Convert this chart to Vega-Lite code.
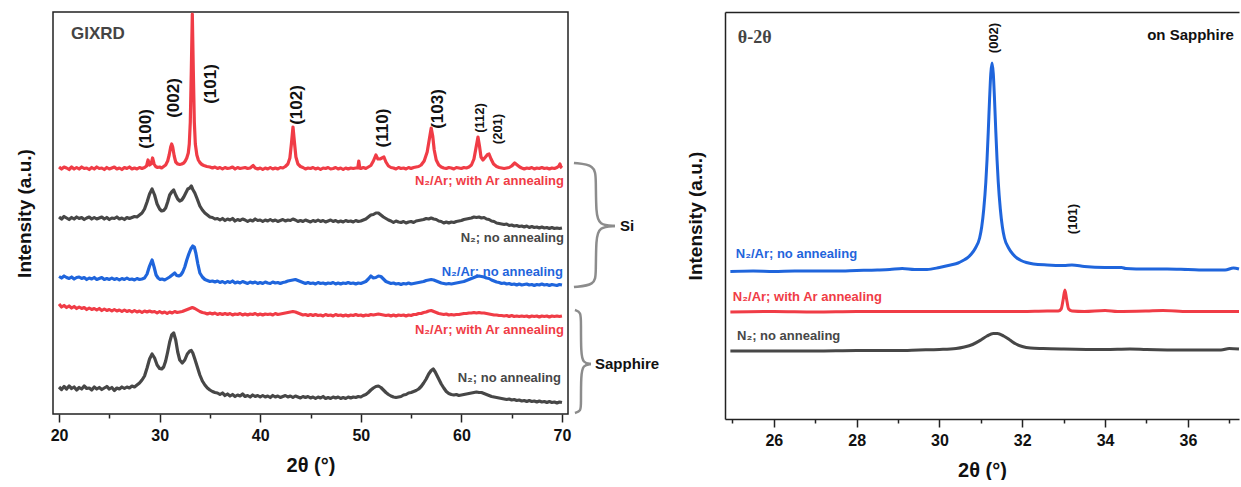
{
"$schema":"https://vega.github.io/schema/vega-lite/v6.json",
"padding":{"left":14,"top":11,"right":0,"bottom":0},
"background":"white",
"bounds":"flush",
"spacing":157,
"config":{"view":{"stroke":null},"font":"Liberation Sans","axis":{"grid":false}},
"datasets":{
"gi":[
{"s":"A","x":20,"y":247},{"s":"A","x":20.25,"y":245},{"s":"A","x":20.5,"y":247},{"s":"A","x":20.75,"y":246},{"s":"A","x":21,"y":244.5},{"s":"A","x":21.25,"y":247},{"s":"A","x":21.5,"y":245},{"s":"A","x":21.75,"y":246.5},{"s":"A","x":22,"y":245},{"s":"A","x":22.25,"y":247},{"s":"A","x":22.5,"y":245.5},{"s":"A","x":22.75,"y":246},{"s":"A","x":23,"y":244.5},{"s":"A","x":23.25,"y":246.5},{"s":"A","x":23.5,"y":245},{"s":"A","x":23.75,"y":247},{"s":"A","x":24,"y":245.5},{"s":"A","x":24.25,"y":246},{"s":"A","x":24.5,"y":244.5},{"s":"A","x":24.75,"y":246.5},{"s":"A","x":25,"y":245},{"s":"A","x":25.25,"y":246},{"s":"A","x":25.5,"y":247},{"s":"A","x":25.75,"y":245},{"s":"A","x":26,"y":246},{"s":"A","x":26.25,"y":244.5},{"s":"A","x":26.5,"y":246.5},{"s":"A","x":26.75,"y":245.5},{"s":"A","x":27,"y":247},{"s":"A","x":27.25,"y":245},{"s":"A","x":27.5,"y":246},{"s":"A","x":27.75,"y":245},{"s":"A","x":28,"y":246.5},{"s":"A","x":28.25,"y":245.5},{"s":"A","x":28.5,"y":246.5},{"s":"A","x":28.7,"y":248},{"s":"A","x":28.85,"y":254},{"s":"A","x":29,"y":249},{"s":"A","x":29.15,"y":250},{"s":"A","x":29.3,"y":256},{"s":"A","x":29.45,"y":250},{"s":"A","x":29.6,"y":247.5},{"s":"A","x":29.8,"y":246.5},{"s":"A","x":30,"y":247},{"s":"A","x":30.2,"y":246},{"s":"A","x":30.4,"y":247.5},{"s":"A","x":30.6,"y":249},{"s":"A","x":30.8,"y":253},{"s":"A","x":30.95,"y":259},{"s":"A","x":31.1,"y":267},{"s":"A","x":31.2,"y":270},{"s":"A","x":31.3,"y":267},{"s":"A","x":31.45,"y":258},{"s":"A","x":31.6,"y":252},{"s":"A","x":31.8,"y":250},{"s":"A","x":32,"y":249.5},{"s":"A","x":32.2,"y":250},{"s":"A","x":32.4,"y":251},{"s":"A","x":32.55,"y":253},{"s":"A","x":32.7,"y":256},{"s":"A","x":32.85,"y":261},{"s":"A","x":32.95,"y":270},{"s":"A","x":33.05,"y":292},{"s":"A","x":33.15,"y":343},{"s":"A","x":33.25,"y":400},{"s":"A","x":33.35,"y":343},{"s":"A","x":33.45,"y":292},{"s":"A","x":33.55,"y":270},{"s":"A","x":33.7,"y":259},{"s":"A","x":33.85,"y":254},{"s":"A","x":34,"y":251.5},{"s":"A","x":34.2,"y":249.5},{"s":"A","x":34.4,"y":248.5},{"s":"A","x":34.7,"y":247.5},{"s":"A","x":35,"y":247},{"s":"A","x":35.25,"y":246},{"s":"A","x":35.5,"y":247},{"s":"A","x":35.75,"y":245.5},{"s":"A","x":36,"y":246.5},{"s":"A","x":36.25,"y":245},{"s":"A","x":36.5,"y":246.5},{"s":"A","x":36.75,"y":245.5},{"s":"A","x":37,"y":246},{"s":"A","x":37.25,"y":247},{"s":"A","x":37.5,"y":245},{"s":"A","x":37.75,"y":246.5},{"s":"A","x":38,"y":245.5},{"s":"A","x":38.25,"y":246},{"s":"A","x":38.5,"y":246.5},{"s":"A","x":38.75,"y":245.5},{"s":"A","x":39,"y":246},{"s":"A","x":39.3,"y":248.5},{"s":"A","x":39.5,"y":246},{"s":"A","x":39.75,"y":245},{"s":"A","x":40,"y":246},{"s":"A","x":40.25,"y":244.5},{"s":"A","x":40.5,"y":246},{"s":"A","x":40.75,"y":245},{"s":"A","x":41,"y":246.5},{"s":"A","x":41.25,"y":245},{"s":"A","x":41.5,"y":246},{"s":"A","x":41.75,"y":245},{"s":"A","x":42,"y":246.5},{"s":"A","x":42.25,"y":246},{"s":"A","x":42.5,"y":247.5},{"s":"A","x":42.75,"y":250},{"s":"A","x":42.95,"y":256},{"s":"A","x":43.1,"y":270},{"s":"A","x":43.26,"y":287},{"s":"A","x":43.4,"y":272},{"s":"A","x":43.55,"y":257},{"s":"A","x":43.75,"y":250},{"s":"A","x":44,"y":247.5},{"s":"A","x":44.25,"y":246.5},{"s":"A","x":44.5,"y":245},{"s":"A","x":44.75,"y":246},{"s":"A","x":45,"y":245.5},{"s":"A","x":45.25,"y":246.5},{"s":"A","x":45.5,"y":245},{"s":"A","x":45.75,"y":246},{"s":"A","x":46,"y":244.5},{"s":"A","x":46.25,"y":246},{"s":"A","x":46.5,"y":245.5},{"s":"A","x":46.75,"y":246.5},{"s":"A","x":47,"y":245},{"s":"A","x":47.25,"y":245.5},{"s":"A","x":47.5,"y":246.5},{"s":"A","x":47.75,"y":245},{"s":"A","x":48,"y":246},{"s":"A","x":48.25,"y":244.5},{"s":"A","x":48.5,"y":246},{"s":"A","x":48.75,"y":245},{"s":"A","x":49,"y":246},{"s":"A","x":49.25,"y":245.5},{"s":"A","x":49.5,"y":246},{"s":"A","x":49.7,"y":246},{"s":"A","x":49.8,"y":253},{"s":"A","x":49.9,"y":246},{"s":"A","x":50,"y":245.5},{"s":"A","x":50.25,"y":246.5},{"s":"A","x":50.5,"y":245.5},{"s":"A","x":50.75,"y":247},{"s":"A","x":51,"y":248.5},{"s":"A","x":51.25,"y":253},{"s":"A","x":51.5,"y":259},{"s":"A","x":51.7,"y":255},{"s":"A","x":51.9,"y":255},{"s":"A","x":52.1,"y":256},{"s":"A","x":52.3,"y":257},{"s":"A","x":52.5,"y":252},{"s":"A","x":52.75,"y":248},{"s":"A","x":53,"y":246.5},{"s":"A","x":53.25,"y":246},{"s":"A","x":53.5,"y":245},{"s":"A","x":53.75,"y":246.5},{"s":"A","x":54,"y":245.5},{"s":"A","x":54.25,"y":246},{"s":"A","x":54.5,"y":245},{"s":"A","x":54.75,"y":246.5},{"s":"A","x":55,"y":245.5},{"s":"A","x":55.25,"y":246.5},{"s":"A","x":55.5,"y":247},{"s":"A","x":55.75,"y":247.5},{"s":"A","x":56,"y":249},{"s":"A","x":56.3,"y":253},{"s":"A","x":56.6,"y":262},{"s":"A","x":56.8,"y":274},{"s":"A","x":57,"y":286},{"s":"A","x":57.15,"y":278},{"s":"A","x":57.3,"y":264},{"s":"A","x":57.5,"y":254},{"s":"A","x":57.75,"y":249},{"s":"A","x":58,"y":247},{"s":"A","x":58.25,"y":246},{"s":"A","x":58.5,"y":245.5},{"s":"A","x":58.75,"y":246.5},{"s":"A","x":59,"y":246},{"s":"A","x":59.25,"y":245},{"s":"A","x":59.5,"y":246.5},{"s":"A","x":59.75,"y":246},{"s":"A","x":60,"y":245.5},{"s":"A","x":60.25,"y":246.5},{"s":"A","x":60.5,"y":246},{"s":"A","x":60.75,"y":247},{"s":"A","x":61,"y":249},{"s":"A","x":61.25,"y":255},{"s":"A","x":61.45,"y":266},{"s":"A","x":61.65,"y":277},{"s":"A","x":61.8,"y":268},{"s":"A","x":61.95,"y":257},{"s":"A","x":62.15,"y":254},{"s":"A","x":62.4,"y":257},{"s":"A","x":62.6,"y":259.5},{"s":"A","x":62.75,"y":260},{"s":"A","x":62.95,"y":255},{"s":"A","x":63.2,"y":250},{"s":"A","x":63.5,"y":247.5},{"s":"A","x":63.75,"y":246.5},{"s":"A","x":64,"y":246},{"s":"A","x":64.25,"y":245.5},{"s":"A","x":64.5,"y":246},{"s":"A","x":64.75,"y":246.5},{"s":"A","x":65,"y":248},{"s":"A","x":65.3,"y":251},{"s":"A","x":65.55,"y":249},{"s":"A","x":65.8,"y":247},{"s":"A","x":66,"y":246},{"s":"A","x":66.25,"y":245},{"s":"A","x":66.5,"y":246},{"s":"A","x":66.75,"y":245.5},{"s":"A","x":67,"y":246.5},{"s":"A","x":67.25,"y":245},{"s":"A","x":67.5,"y":246},{"s":"A","x":67.75,"y":245.5},{"s":"A","x":68,"y":246.5},{"s":"A","x":68.25,"y":245.5},{"s":"A","x":68.5,"y":246},{"s":"A","x":68.75,"y":245},{"s":"A","x":69,"y":246},{"s":"A","x":69.25,"y":245.5},{"s":"A","x":69.5,"y":246.5},{"s":"A","x":69.7,"y":248},{"s":"A","x":69.8,"y":250},{"s":"A","x":69.9,"y":247},{"s":"A","x":70,"y":246},
{"s":"B","x":20,"y":197},{"s":"B","x":20.25,"y":195},{"s":"B","x":20.5,"y":197.5},{"s":"B","x":20.75,"y":196},{"s":"B","x":21,"y":194.5},{"s":"B","x":21.25,"y":196.5},{"s":"B","x":21.5,"y":195},{"s":"B","x":21.75,"y":197},{"s":"B","x":22,"y":195.5},{"s":"B","x":22.25,"y":196.5},{"s":"B","x":22.5,"y":194.5},{"s":"B","x":22.75,"y":196},{"s":"B","x":23,"y":197},{"s":"B","x":23.25,"y":195},{"s":"B","x":23.5,"y":196.5},{"s":"B","x":23.75,"y":195},{"s":"B","x":24,"y":196},{"s":"B","x":24.25,"y":197},{"s":"B","x":24.5,"y":195},{"s":"B","x":24.75,"y":196.5},{"s":"B","x":25,"y":194.5},{"s":"B","x":25.25,"y":196},{"s":"B","x":25.5,"y":195.5},{"s":"B","x":25.75,"y":197},{"s":"B","x":26,"y":195},{"s":"B","x":26.25,"y":196},{"s":"B","x":26.5,"y":194.5},{"s":"B","x":26.75,"y":196.5},{"s":"B","x":27,"y":195.5},{"s":"B","x":27.25,"y":196.5},{"s":"B","x":27.5,"y":197.5},{"s":"B","x":27.75,"y":197},{"s":"B","x":28,"y":199},{"s":"B","x":28.25,"y":201},{"s":"B","x":28.5,"y":205},{"s":"B","x":28.75,"y":212},{"s":"B","x":29,"y":220},{"s":"B","x":29.25,"y":225},{"s":"B","x":29.5,"y":219},{"s":"B","x":29.75,"y":210},{"s":"B","x":30,"y":205},{"s":"B","x":30.2,"y":203},{"s":"B","x":30.4,"y":203.5},{"s":"B","x":30.6,"y":206},{"s":"B","x":30.8,"y":212},{"s":"B","x":31,"y":219},{"s":"B","x":31.2,"y":222},{"s":"B","x":31.4,"y":224},{"s":"B","x":31.6,"y":219},{"s":"B","x":31.8,"y":215},{"s":"B","x":32,"y":213},{"s":"B","x":32.2,"y":214},{"s":"B","x":32.4,"y":217},{"s":"B","x":32.6,"y":221},{"s":"B","x":32.8,"y":225},{"s":"B","x":33,"y":226},{"s":"B","x":33.15,"y":228},{"s":"B","x":33.3,"y":224.5},{"s":"B","x":33.5,"y":221},{"s":"B","x":33.7,"y":216},{"s":"B","x":34,"y":208},{"s":"B","x":34.25,"y":204},{"s":"B","x":34.5,"y":201},{"s":"B","x":34.75,"y":199},{"s":"B","x":35,"y":197},{"s":"B","x":35.25,"y":196.5},{"s":"B","x":35.5,"y":195},{"s":"B","x":35.75,"y":195.5},{"s":"B","x":36,"y":194},{"s":"B","x":36.25,"y":195.5},{"s":"B","x":36.5,"y":193.5},{"s":"B","x":36.75,"y":195},{"s":"B","x":37,"y":194},{"s":"B","x":37.25,"y":195.5},{"s":"B","x":37.5,"y":193},{"s":"B","x":37.75,"y":194.5},{"s":"B","x":38,"y":193.5},{"s":"B","x":38.25,"y":195},{"s":"B","x":38.5,"y":194},{"s":"B","x":38.75,"y":192.5},{"s":"B","x":39,"y":194},{"s":"B","x":39.25,"y":193},{"s":"B","x":39.5,"y":195},{"s":"B","x":39.75,"y":193.5},{"s":"B","x":40,"y":194},{"s":"B","x":40.25,"y":192.5},{"s":"B","x":40.5,"y":194},{"s":"B","x":40.75,"y":193},{"s":"B","x":41,"y":194.5},{"s":"B","x":41.25,"y":193},{"s":"B","x":41.5,"y":194},{"s":"B","x":41.75,"y":192.5},{"s":"B","x":42,"y":193.5},{"s":"B","x":42.25,"y":194.5},{"s":"B","x":42.5,"y":193},{"s":"B","x":42.75,"y":194},{"s":"B","x":43,"y":193.5},{"s":"B","x":43.25,"y":195},{"s":"B","x":43.5,"y":194},{"s":"B","x":43.75,"y":192.5},{"s":"B","x":44,"y":193.5},{"s":"B","x":44.25,"y":192.5},{"s":"B","x":44.5,"y":194},{"s":"B","x":44.75,"y":193},{"s":"B","x":45,"y":192},{"s":"B","x":45.25,"y":193.5},{"s":"B","x":45.5,"y":192.5},{"s":"B","x":45.75,"y":194},{"s":"B","x":46,"y":192.5},{"s":"B","x":46.25,"y":193.5},{"s":"B","x":46.5,"y":192},{"s":"B","x":46.75,"y":193},{"s":"B","x":47,"y":194},{"s":"B","x":47.25,"y":192.5},{"s":"B","x":47.5,"y":193.5},{"s":"B","x":47.75,"y":192},{"s":"B","x":48,"y":193},{"s":"B","x":48.25,"y":192},{"s":"B","x":48.5,"y":193.5},{"s":"B","x":48.75,"y":192.5},{"s":"B","x":49,"y":193},{"s":"B","x":49.25,"y":192},{"s":"B","x":49.5,"y":193.5},{"s":"B","x":49.75,"y":192.5},{"s":"B","x":50,"y":193},{"s":"B","x":50.25,"y":194},{"s":"B","x":50.5,"y":195},{"s":"B","x":50.75,"y":197},{"s":"B","x":51,"y":199},{"s":"B","x":51.25,"y":199.5},{"s":"B","x":51.5,"y":201},{"s":"B","x":51.75,"y":201},{"s":"B","x":52,"y":199},{"s":"B","x":52.25,"y":197},{"s":"B","x":52.5,"y":195.5},{"s":"B","x":52.75,"y":194},{"s":"B","x":53,"y":193},{"s":"B","x":53.25,"y":191.5},{"s":"B","x":53.5,"y":193},{"s":"B","x":53.75,"y":192},{"s":"B","x":54,"y":191.5},{"s":"B","x":54.25,"y":192.5},{"s":"B","x":54.5,"y":191},{"s":"B","x":54.75,"y":192},{"s":"B","x":55,"y":192.5},{"s":"B","x":55.25,"y":191.5},{"s":"B","x":55.5,"y":193},{"s":"B","x":55.75,"y":193.5},{"s":"B","x":56,"y":194},{"s":"B","x":56.25,"y":194.5},{"s":"B","x":56.5,"y":195.5},{"s":"B","x":56.75,"y":195},{"s":"B","x":57,"y":196},{"s":"B","x":57.25,"y":195},{"s":"B","x":57.5,"y":194.5},{"s":"B","x":57.75,"y":193},{"s":"B","x":58,"y":192.5},{"s":"B","x":58.25,"y":191},{"s":"B","x":58.5,"y":192},{"s":"B","x":58.75,"y":191},{"s":"B","x":59,"y":192},{"s":"B","x":59.25,"y":191.5},{"s":"B","x":59.5,"y":192.5},{"s":"B","x":59.75,"y":193},{"s":"B","x":60,"y":193.5},{"s":"B","x":60.25,"y":194.5},{"s":"B","x":60.5,"y":195},{"s":"B","x":60.75,"y":195.5},{"s":"B","x":61,"y":196},{"s":"B","x":61.25,"y":197},{"s":"B","x":61.5,"y":196.5},{"s":"B","x":61.75,"y":197},{"s":"B","x":62,"y":196},{"s":"B","x":62.25,"y":196.5},{"s":"B","x":62.5,"y":195},{"s":"B","x":62.75,"y":194.5},{"s":"B","x":63,"y":193},{"s":"B","x":63.25,"y":192.5},{"s":"B","x":63.5,"y":191},{"s":"B","x":63.75,"y":190.5},{"s":"B","x":64,"y":190},{"s":"B","x":64.25,"y":189.5},{"s":"B","x":64.5,"y":190},{"s":"B","x":64.75,"y":188.5},{"s":"B","x":65,"y":189},{"s":"B","x":65.25,"y":188},{"s":"B","x":65.5,"y":188.5},{"s":"B","x":65.75,"y":187.5},{"s":"B","x":66,"y":188},{"s":"B","x":66.25,"y":187},{"s":"B","x":66.5,"y":188},{"s":"B","x":66.75,"y":186.5},{"s":"B","x":67,"y":187.5},{"s":"B","x":67.25,"y":186.5},{"s":"B","x":67.5,"y":187},{"s":"B","x":67.75,"y":186},{"s":"B","x":68,"y":187},{"s":"B","x":68.25,"y":186},{"s":"B","x":68.5,"y":186.5},{"s":"B","x":68.75,"y":185.5},{"s":"B","x":69,"y":186.5},{"s":"B","x":69.25,"y":185.5},{"s":"B","x":69.5,"y":186},{"s":"B","x":69.75,"y":185.5},{"s":"B","x":70,"y":186},
{"s":"C","x":20,"y":137.5},{"s":"C","x":20.25,"y":136},{"s":"C","x":20.5,"y":138},{"s":"C","x":20.75,"y":136.5},{"s":"C","x":21,"y":135.5},{"s":"C","x":21.25,"y":137},{"s":"C","x":21.5,"y":135},{"s":"C","x":21.75,"y":136.5},{"s":"C","x":22,"y":137},{"s":"C","x":22.25,"y":135.5},{"s":"C","x":22.5,"y":136.5},{"s":"C","x":22.75,"y":134.5},{"s":"C","x":23,"y":136},{"s":"C","x":23.25,"y":135},{"s":"C","x":23.5,"y":136.5},{"s":"C","x":23.75,"y":134.5},{"s":"C","x":24,"y":135.5},{"s":"C","x":24.25,"y":136.5},{"s":"C","x":24.5,"y":134.5},{"s":"C","x":24.75,"y":135.5},{"s":"C","x":25,"y":134.5},{"s":"C","x":25.25,"y":136},{"s":"C","x":25.5,"y":134.5},{"s":"C","x":25.75,"y":135.5},{"s":"C","x":26,"y":134},{"s":"C","x":26.25,"y":135.5},{"s":"C","x":26.5,"y":134.5},{"s":"C","x":26.75,"y":136},{"s":"C","x":27,"y":134.5},{"s":"C","x":27.25,"y":135},{"s":"C","x":27.5,"y":134},{"s":"C","x":27.75,"y":135.5},{"s":"C","x":28,"y":134.5},{"s":"C","x":28.25,"y":135},{"s":"C","x":28.5,"y":136},{"s":"C","x":28.75,"y":140},{"s":"C","x":29,"y":148},{"s":"C","x":29.25,"y":154},{"s":"C","x":29.45,"y":147},{"s":"C","x":29.65,"y":139},{"s":"C","x":29.85,"y":136},{"s":"C","x":30.05,"y":134.5},{"s":"C","x":30.25,"y":135},{"s":"C","x":30.5,"y":134},{"s":"C","x":30.75,"y":135.5},{"s":"C","x":31,"y":137},{"s":"C","x":31.25,"y":139},{"s":"C","x":31.5,"y":141},{"s":"C","x":31.7,"y":138.5},{"s":"C","x":31.9,"y":138},{"s":"C","x":32.1,"y":139},{"s":"C","x":32.3,"y":142},{"s":"C","x":32.5,"y":147},{"s":"C","x":32.7,"y":154},{"s":"C","x":32.9,"y":160},{"s":"C","x":33.1,"y":165},{"s":"C","x":33.3,"y":168},{"s":"C","x":33.45,"y":167},{"s":"C","x":33.6,"y":161},{"s":"C","x":33.8,"y":150},{"s":"C","x":34,"y":141},{"s":"C","x":34.25,"y":137},{"s":"C","x":34.5,"y":134.5},{"s":"C","x":34.75,"y":133.5},{"s":"C","x":35,"y":132.5},{"s":"C","x":35.25,"y":133},{"s":"C","x":35.5,"y":132},{"s":"C","x":35.75,"y":133},{"s":"C","x":36,"y":131.5},{"s":"C","x":36.25,"y":132.5},{"s":"C","x":36.5,"y":131},{"s":"C","x":36.75,"y":132.5},{"s":"C","x":37,"y":131.5},{"s":"C","x":37.25,"y":133},{"s":"C","x":37.5,"y":131},{"s":"C","x":37.75,"y":132},{"s":"C","x":38,"y":131},{"s":"C","x":38.25,"y":132.5},{"s":"C","x":38.5,"y":131.5},{"s":"C","x":38.75,"y":130.5},{"s":"C","x":39,"y":132},{"s":"C","x":39.25,"y":131},{"s":"C","x":39.5,"y":132},{"s":"C","x":39.75,"y":130.5},{"s":"C","x":40,"y":131.5},{"s":"C","x":40.25,"y":130.5},{"s":"C","x":40.5,"y":132},{"s":"C","x":40.75,"y":131},{"s":"C","x":41,"y":130.5},{"s":"C","x":41.25,"y":132},{"s":"C","x":41.5,"y":131},{"s":"C","x":41.75,"y":131.5},{"s":"C","x":42,"y":130.5},{"s":"C","x":42.25,"y":131.5},{"s":"C","x":42.5,"y":132},{"s":"C","x":42.75,"y":133},{"s":"C","x":43,"y":133.5},{"s":"C","x":43.25,"y":134},{"s":"C","x":43.5,"y":134.5},{"s":"C","x":43.75,"y":133.5},{"s":"C","x":44,"y":132.5},{"s":"C","x":44.25,"y":131.5},{"s":"C","x":44.5,"y":130.5},{"s":"C","x":44.75,"y":131.5},{"s":"C","x":45,"y":130.5},{"s":"C","x":45.25,"y":131},{"s":"C","x":45.5,"y":130},{"s":"C","x":45.75,"y":131.5},{"s":"C","x":46,"y":130.5},{"s":"C","x":46.25,"y":131},{"s":"C","x":46.5,"y":130},{"s":"C","x":46.75,"y":131},{"s":"C","x":47,"y":130.5},{"s":"C","x":47.25,"y":131.5},{"s":"C","x":47.5,"y":130},{"s":"C","x":47.75,"y":131},{"s":"C","x":48,"y":130},{"s":"C","x":48.25,"y":131},{"s":"C","x":48.5,"y":130.5},{"s":"C","x":48.75,"y":131.5},{"s":"C","x":49,"y":130.5},{"s":"C","x":49.25,"y":131},{"s":"C","x":49.5,"y":130},{"s":"C","x":49.75,"y":131},{"s":"C","x":50,"y":130.5},{"s":"C","x":50.25,"y":131.5},{"s":"C","x":50.5,"y":132.5},{"s":"C","x":50.75,"y":135},{"s":"C","x":51,"y":138},{"s":"C","x":51.25,"y":136},{"s":"C","x":51.5,"y":136.5},{"s":"C","x":51.75,"y":138},{"s":"C","x":52,"y":137.5},{"s":"C","x":52.25,"y":135},{"s":"C","x":52.5,"y":132.5},{"s":"C","x":52.75,"y":131.5},{"s":"C","x":53,"y":130.5},{"s":"C","x":53.25,"y":131},{"s":"C","x":53.5,"y":130},{"s":"C","x":53.75,"y":130.5},{"s":"C","x":54,"y":129.5},{"s":"C","x":54.25,"y":130.5},{"s":"C","x":54.5,"y":130},{"s":"C","x":54.75,"y":131},{"s":"C","x":55,"y":130},{"s":"C","x":55.25,"y":130.5},{"s":"C","x":55.5,"y":131},{"s":"C","x":55.75,"y":131.5},{"s":"C","x":56,"y":132},{"s":"C","x":56.25,"y":132.5},{"s":"C","x":56.5,"y":133.5},{"s":"C","x":56.75,"y":134},{"s":"C","x":57,"y":134.5},{"s":"C","x":57.25,"y":134},{"s":"C","x":57.5,"y":133},{"s":"C","x":57.75,"y":132},{"s":"C","x":58,"y":131},{"s":"C","x":58.25,"y":130.5},{"s":"C","x":58.5,"y":130},{"s":"C","x":58.75,"y":130.5},{"s":"C","x":59,"y":130},{"s":"C","x":59.25,"y":130.5},{"s":"C","x":59.5,"y":131},{"s":"C","x":59.75,"y":131.5},{"s":"C","x":60,"y":132},{"s":"C","x":60.25,"y":132.5},{"s":"C","x":60.5,"y":133.5},{"s":"C","x":60.75,"y":134.5},{"s":"C","x":61,"y":135.5},{"s":"C","x":61.25,"y":136.5},{"s":"C","x":61.5,"y":137.5},{"s":"C","x":61.75,"y":138},{"s":"C","x":62,"y":137.5},{"s":"C","x":62.25,"y":137},{"s":"C","x":62.5,"y":136},{"s":"C","x":62.75,"y":135.5},{"s":"C","x":63,"y":134},{"s":"C","x":63.25,"y":133},{"s":"C","x":63.5,"y":132},{"s":"C","x":63.75,"y":131.5},{"s":"C","x":64,"y":130.5},{"s":"C","x":64.25,"y":131},{"s":"C","x":64.5,"y":130},{"s":"C","x":64.75,"y":130.5},{"s":"C","x":65,"y":129.5},{"s":"C","x":65.25,"y":130},{"s":"C","x":65.5,"y":129},{"s":"C","x":65.75,"y":130},{"s":"C","x":66,"y":129},{"s":"C","x":66.25,"y":129.5},{"s":"C","x":66.5,"y":130},{"s":"C","x":66.75,"y":129},{"s":"C","x":67,"y":129.5},{"s":"C","x":67.25,"y":128.5},{"s":"C","x":67.5,"y":129.5},{"s":"C","x":67.75,"y":129},{"s":"C","x":68,"y":130},{"s":"C","x":68.25,"y":129},{"s":"C","x":68.5,"y":129.5},{"s":"C","x":68.75,"y":128.5},{"s":"C","x":69,"y":129.5},{"s":"C","x":69.25,"y":129},{"s":"C","x":69.5,"y":128.5},{"s":"C","x":69.75,"y":129.5},{"s":"C","x":70,"y":129},
{"s":"D","x":20,"y":110},{"s":"D","x":20.25,"y":107},{"s":"D","x":20.5,"y":108.5},{"s":"D","x":20.75,"y":106.5},{"s":"D","x":21,"y":108},{"s":"D","x":21.25,"y":106},{"s":"D","x":21.5,"y":107.5},{"s":"D","x":21.75,"y":105.5},{"s":"D","x":22,"y":107},{"s":"D","x":22.25,"y":105.5},{"s":"D","x":22.5,"y":106.5},{"s":"D","x":22.75,"y":104.5},{"s":"D","x":23,"y":106},{"s":"D","x":23.25,"y":104.5},{"s":"D","x":23.5,"y":105.5},{"s":"D","x":23.75,"y":104},{"s":"D","x":24,"y":105.5},{"s":"D","x":24.25,"y":103.5},{"s":"D","x":24.5,"y":105},{"s":"D","x":24.75,"y":103.5},{"s":"D","x":25,"y":104.5},{"s":"D","x":25.25,"y":103},{"s":"D","x":25.5,"y":104.5},{"s":"D","x":25.75,"y":103},{"s":"D","x":26,"y":104},{"s":"D","x":26.25,"y":102.5},{"s":"D","x":26.5,"y":104},{"s":"D","x":26.75,"y":102.5},{"s":"D","x":27,"y":103.5},{"s":"D","x":27.25,"y":102},{"s":"D","x":27.5,"y":103.5},{"s":"D","x":27.75,"y":102},{"s":"D","x":28,"y":103},{"s":"D","x":28.25,"y":101.5},{"s":"D","x":28.5,"y":103},{"s":"D","x":28.75,"y":102},{"s":"D","x":29,"y":103},{"s":"D","x":29.25,"y":102},{"s":"D","x":29.5,"y":102.5},{"s":"D","x":29.75,"y":101},{"s":"D","x":30,"y":102.5},{"s":"D","x":30.25,"y":101},{"s":"D","x":30.5,"y":102},{"s":"D","x":30.75,"y":100.5},{"s":"D","x":31,"y":102},{"s":"D","x":31.25,"y":101},{"s":"D","x":31.5,"y":102.5},{"s":"D","x":31.75,"y":101.5},{"s":"D","x":32,"y":102},{"s":"D","x":32.25,"y":102.5},{"s":"D","x":32.5,"y":103.5},{"s":"D","x":32.75,"y":104.5},{"s":"D","x":33,"y":105.5},{"s":"D","x":33.25,"y":106.5},{"s":"D","x":33.5,"y":105.5},{"s":"D","x":33.75,"y":104},{"s":"D","x":34,"y":102.5},{"s":"D","x":34.25,"y":101.5},{"s":"D","x":34.5,"y":101},{"s":"D","x":34.75,"y":100},{"s":"D","x":35,"y":101},{"s":"D","x":35.25,"y":100},{"s":"D","x":35.5,"y":101},{"s":"D","x":35.75,"y":99.5},{"s":"D","x":36,"y":100.5},{"s":"D","x":36.25,"y":99.5},{"s":"D","x":36.5,"y":100.5},{"s":"D","x":36.75,"y":99.5},{"s":"D","x":37,"y":100.5},{"s":"D","x":37.25,"y":99},{"s":"D","x":37.5,"y":100},{"s":"D","x":37.75,"y":99.5},{"s":"D","x":38,"y":100.5},{"s":"D","x":38.25,"y":99},{"s":"D","x":38.5,"y":100},{"s":"D","x":38.75,"y":99},{"s":"D","x":39,"y":100},{"s":"D","x":39.25,"y":99.5},{"s":"D","x":39.5,"y":100.5},{"s":"D","x":39.75,"y":99},{"s":"D","x":40,"y":100},{"s":"D","x":40.25,"y":99},{"s":"D","x":40.5,"y":100},{"s":"D","x":40.75,"y":99.5},{"s":"D","x":41,"y":100},{"s":"D","x":41.25,"y":99},{"s":"D","x":41.5,"y":100.5},{"s":"D","x":41.75,"y":99.5},{"s":"D","x":42,"y":100},{"s":"D","x":42.25,"y":100.5},{"s":"D","x":42.5,"y":101},{"s":"D","x":42.75,"y":101.5},{"s":"D","x":43,"y":102},{"s":"D","x":43.25,"y":102.5},{"s":"D","x":43.5,"y":102},{"s":"D","x":43.75,"y":101},{"s":"D","x":44,"y":100},{"s":"D","x":44.25,"y":99},{"s":"D","x":44.5,"y":99.5},{"s":"D","x":44.75,"y":98.5},{"s":"D","x":45,"y":99.5},{"s":"D","x":45.25,"y":98.5},{"s":"D","x":45.5,"y":99.5},{"s":"D","x":45.75,"y":98.5},{"s":"D","x":46,"y":99},{"s":"D","x":46.25,"y":98},{"s":"D","x":46.5,"y":99.5},{"s":"D","x":46.75,"y":98.5},{"s":"D","x":47,"y":99},{"s":"D","x":47.25,"y":98},{"s":"D","x":47.5,"y":99.5},{"s":"D","x":47.75,"y":98.5},{"s":"D","x":48,"y":99},{"s":"D","x":48.25,"y":98},{"s":"D","x":48.5,"y":99},{"s":"D","x":48.75,"y":98},{"s":"D","x":49,"y":99},{"s":"D","x":49.25,"y":98.5},{"s":"D","x":49.5,"y":99.5},{"s":"D","x":49.75,"y":98.5},{"s":"D","x":50,"y":99},{"s":"D","x":50.25,"y":98},{"s":"D","x":50.5,"y":99},{"s":"D","x":50.75,"y":98.5},{"s":"D","x":51,"y":99.5},{"s":"D","x":51.25,"y":99},{"s":"D","x":51.5,"y":99.5},{"s":"D","x":51.75,"y":100},{"s":"D","x":52,"y":99.5},{"s":"D","x":52.25,"y":99},{"s":"D","x":52.5,"y":98.5},{"s":"D","x":52.75,"y":99},{"s":"D","x":53,"y":98},{"s":"D","x":53.25,"y":99},{"s":"D","x":53.5,"y":98},{"s":"D","x":53.75,"y":99},{"s":"D","x":54,"y":98.5},{"s":"D","x":54.25,"y":99},{"s":"D","x":54.5,"y":98},{"s":"D","x":54.75,"y":99},{"s":"D","x":55,"y":98.5},{"s":"D","x":55.25,"y":99.5},{"s":"D","x":55.5,"y":99.5},{"s":"D","x":55.75,"y":100.5},{"s":"D","x":56,"y":100.5},{"s":"D","x":56.25,"y":101.5},{"s":"D","x":56.5,"y":102},{"s":"D","x":56.75,"y":103},{"s":"D","x":57,"y":103.5},{"s":"D","x":57.25,"y":102.5},{"s":"D","x":57.5,"y":101.5},{"s":"D","x":57.75,"y":100.5},{"s":"D","x":58,"y":100},{"s":"D","x":58.25,"y":99.5},{"s":"D","x":58.5,"y":100},{"s":"D","x":58.75,"y":99},{"s":"D","x":59,"y":99.5},{"s":"D","x":59.25,"y":99},{"s":"D","x":59.5,"y":99.5},{"s":"D","x":59.75,"y":99.5},{"s":"D","x":60,"y":100},{"s":"D","x":60.25,"y":100.5},{"s":"D","x":60.5,"y":100.5},{"s":"D","x":60.75,"y":101},{"s":"D","x":61,"y":101},{"s":"D","x":61.25,"y":101.5},{"s":"D","x":61.5,"y":101},{"s":"D","x":61.75,"y":101.5},{"s":"D","x":62,"y":101},{"s":"D","x":62.25,"y":101},{"s":"D","x":62.5,"y":100.5},{"s":"D","x":62.75,"y":100},{"s":"D","x":63,"y":99.5},{"s":"D","x":63.25,"y":99},{"s":"D","x":63.5,"y":99},{"s":"D","x":63.75,"y":98.5},{"s":"D","x":64,"y":98.5},{"s":"D","x":64.25,"y":98},{"s":"D","x":64.5,"y":98.5},{"s":"D","x":64.75,"y":97.5},{"s":"D","x":65,"y":98.5},{"s":"D","x":65.25,"y":97.5},{"s":"D","x":65.5,"y":98},{"s":"D","x":65.75,"y":97.5},{"s":"D","x":66,"y":98},{"s":"D","x":66.25,"y":97.5},{"s":"D","x":66.5,"y":98},{"s":"D","x":66.75,"y":97},{"s":"D","x":67,"y":98},{"s":"D","x":67.25,"y":97.5},{"s":"D","x":67.5,"y":98},{"s":"D","x":67.75,"y":97},{"s":"D","x":68,"y":98},{"s":"D","x":68.25,"y":97.5},{"s":"D","x":68.5,"y":98},{"s":"D","x":68.75,"y":97},{"s":"D","x":69,"y":98},{"s":"D","x":69.25,"y":97.5},{"s":"D","x":69.5,"y":98},{"s":"D","x":69.75,"y":97.5},{"s":"D","x":70,"y":98},
{"s":"E","x":20,"y":27},{"s":"E","x":20.25,"y":24.5},{"s":"E","x":20.5,"y":27.5},{"s":"E","x":20.75,"y":25},{"s":"E","x":21,"y":28},{"s":"E","x":21.25,"y":25.5},{"s":"E","x":21.5,"y":27},{"s":"E","x":21.75,"y":24},{"s":"E","x":22,"y":26.5},{"s":"E","x":22.25,"y":25},{"s":"E","x":22.5,"y":28},{"s":"E","x":22.75,"y":25.5},{"s":"E","x":23,"y":26},{"s":"E","x":23.25,"y":24},{"s":"E","x":23.5,"y":27},{"s":"E","x":23.75,"y":25},{"s":"E","x":24,"y":26.5},{"s":"E","x":24.25,"y":24.5},{"s":"E","x":24.5,"y":26},{"s":"E","x":24.75,"y":27.5},{"s":"E","x":25,"y":25},{"s":"E","x":25.25,"y":26.5},{"s":"E","x":25.5,"y":23.5},{"s":"E","x":25.75,"y":26},{"s":"E","x":26,"y":25},{"s":"E","x":26.25,"y":27},{"s":"E","x":26.5,"y":25.5},{"s":"E","x":26.75,"y":27},{"s":"E","x":27,"y":26},{"s":"E","x":27.25,"y":28},{"s":"E","x":27.5,"y":27},{"s":"E","x":27.75,"y":29},{"s":"E","x":28,"y":31},{"s":"E","x":28.25,"y":34},{"s":"E","x":28.5,"y":38},{"s":"E","x":28.75,"y":46},{"s":"E","x":29,"y":55},{"s":"E","x":29.25,"y":60},{"s":"E","x":29.5,"y":56},{"s":"E","x":29.75,"y":49},{"s":"E","x":30,"y":45.5},{"s":"E","x":30.2,"y":45},{"s":"E","x":30.4,"y":47},{"s":"E","x":30.6,"y":53},{"s":"E","x":30.8,"y":62},{"s":"E","x":31,"y":72},{"s":"E","x":31.2,"y":79},{"s":"E","x":31.4,"y":81},{"s":"E","x":31.6,"y":74},{"s":"E","x":31.8,"y":62},{"s":"E","x":32,"y":54},{"s":"E","x":32.25,"y":51},{"s":"E","x":32.5,"y":54},{"s":"E","x":32.75,"y":60},{"s":"E","x":33,"y":63},{"s":"E","x":33.15,"y":63.5},{"s":"E","x":33.3,"y":61},{"s":"E","x":33.5,"y":55},{"s":"E","x":33.75,"y":47},{"s":"E","x":34,"y":39},{"s":"E","x":34.25,"y":33},{"s":"E","x":34.5,"y":29},{"s":"E","x":34.75,"y":26},{"s":"E","x":35,"y":24},{"s":"E","x":35.25,"y":22.5},{"s":"E","x":35.5,"y":21.5},{"s":"E","x":35.75,"y":21},{"s":"E","x":36,"y":19.5},{"s":"E","x":36.25,"y":21},{"s":"E","x":36.5,"y":18.5},{"s":"E","x":36.75,"y":20},{"s":"E","x":37,"y":18},{"s":"E","x":37.25,"y":19.5},{"s":"E","x":37.5,"y":17.5},{"s":"E","x":37.75,"y":19},{"s":"E","x":38,"y":18},{"s":"E","x":38.25,"y":20},{"s":"E","x":38.5,"y":17.5},{"s":"E","x":38.75,"y":18.5},{"s":"E","x":39,"y":17},{"s":"E","x":39.25,"y":19},{"s":"E","x":39.5,"y":17.5},{"s":"E","x":39.75,"y":18.5},{"s":"E","x":40,"y":17},{"s":"E","x":40.25,"y":18.5},{"s":"E","x":40.5,"y":17},{"s":"E","x":40.75,"y":18},{"s":"E","x":41,"y":16.5},{"s":"E","x":41.25,"y":18.5},{"s":"E","x":41.5,"y":17},{"s":"E","x":41.75,"y":18},{"s":"E","x":42,"y":16.5},{"s":"E","x":42.25,"y":17.5},{"s":"E","x":42.5,"y":18.5},{"s":"E","x":42.75,"y":17},{"s":"E","x":43,"y":18},{"s":"E","x":43.25,"y":16.5},{"s":"E","x":43.5,"y":18},{"s":"E","x":43.75,"y":17},{"s":"E","x":44,"y":16},{"s":"E","x":44.25,"y":17.5},{"s":"E","x":44.5,"y":16.5},{"s":"E","x":44.75,"y":17.5},{"s":"E","x":45,"y":16},{"s":"E","x":45.25,"y":17},{"s":"E","x":45.5,"y":15.5},{"s":"E","x":45.75,"y":17},{"s":"E","x":46,"y":16},{"s":"E","x":46.25,"y":17.5},{"s":"E","x":46.5,"y":15.5},{"s":"E","x":46.75,"y":16.5},{"s":"E","x":47,"y":15.5},{"s":"E","x":47.25,"y":17},{"s":"E","x":47.5,"y":16},{"s":"E","x":47.75,"y":17},{"s":"E","x":48,"y":15.5},{"s":"E","x":48.25,"y":16.5},{"s":"E","x":48.5,"y":15.5},{"s":"E","x":48.75,"y":17},{"s":"E","x":49,"y":16},{"s":"E","x":49.25,"y":17},{"s":"E","x":49.5,"y":16.5},{"s":"E","x":49.75,"y":17.5},{"s":"E","x":50,"y":17},{"s":"E","x":50.25,"y":18.5},{"s":"E","x":50.5,"y":19.5},{"s":"E","x":50.75,"y":21.5},{"s":"E","x":51,"y":24},{"s":"E","x":51.25,"y":26},{"s":"E","x":51.5,"y":27.5},{"s":"E","x":51.75,"y":28},{"s":"E","x":52,"y":26.5},{"s":"E","x":52.25,"y":24},{"s":"E","x":52.5,"y":21.5},{"s":"E","x":52.75,"y":19.5},{"s":"E","x":53,"y":18},{"s":"E","x":53.25,"y":17},{"s":"E","x":53.5,"y":16.5},{"s":"E","x":53.75,"y":17},{"s":"E","x":54,"y":17.5},{"s":"E","x":54.25,"y":19},{"s":"E","x":54.5,"y":19.5},{"s":"E","x":54.75,"y":21},{"s":"E","x":55,"y":21.5},{"s":"E","x":55.25,"y":22.5},{"s":"E","x":55.5,"y":23.5},{"s":"E","x":55.75,"y":25},{"s":"E","x":56,"y":27.5},{"s":"E","x":56.25,"y":31},{"s":"E","x":56.5,"y":35},{"s":"E","x":56.75,"y":40},{"s":"E","x":57,"y":43.5},{"s":"E","x":57.2,"y":45},{"s":"E","x":57.4,"y":42},{"s":"E","x":57.6,"y":38},{"s":"E","x":57.8,"y":34},{"s":"E","x":58,"y":30},{"s":"E","x":58.25,"y":26},{"s":"E","x":58.5,"y":22.5},{"s":"E","x":58.75,"y":20.5},{"s":"E","x":59,"y":19.5},{"s":"E","x":59.25,"y":19},{"s":"E","x":59.5,"y":19.5},{"s":"E","x":59.75,"y":18.5},{"s":"E","x":60,"y":19},{"s":"E","x":60.25,"y":19.5},{"s":"E","x":60.5,"y":20},{"s":"E","x":60.75,"y":20.5},{"s":"E","x":61,"y":21},{"s":"E","x":61.25,"y":21.5},{"s":"E","x":61.5,"y":22},{"s":"E","x":61.75,"y":21.5},{"s":"E","x":62,"y":21.5},{"s":"E","x":62.25,"y":20.5},{"s":"E","x":62.5,"y":19.5},{"s":"E","x":62.75,"y":18.5},{"s":"E","x":63,"y":17.5},{"s":"E","x":63.25,"y":17},{"s":"E","x":63.5,"y":16.5},{"s":"E","x":63.75,"y":16},{"s":"E","x":64,"y":15.5},{"s":"E","x":64.25,"y":15},{"s":"E","x":64.5,"y":14.5},{"s":"E","x":64.75,"y":15},{"s":"E","x":65,"y":14},{"s":"E","x":65.25,"y":14.5},{"s":"E","x":65.5,"y":13.5},{"s":"E","x":65.75,"y":14},{"s":"E","x":66,"y":13},{"s":"E","x":66.25,"y":13.5},{"s":"E","x":66.5,"y":12.5},{"s":"E","x":66.75,"y":13.5},{"s":"E","x":67,"y":12.5},{"s":"E","x":67.25,"y":13},{"s":"E","x":67.5,"y":12},{"s":"E","x":67.75,"y":13},{"s":"E","x":68,"y":12},{"s":"E","x":68.25,"y":12.5},{"s":"E","x":68.5,"y":11.5},{"s":"E","x":68.75,"y":12.5},{"s":"E","x":69,"y":11.5},{"s":"E","x":69.25,"y":12},{"s":"E","x":69.5,"y":11},{"s":"E","x":69.75,"y":12},{"s":"E","x":70,"y":11.5}
],
"pk1":[{"t":"(100)","x":28.65,"y":285},{"t":"(002)","x":31.45,"y":316},{"t":"(101)","x":35.06,"y":330},{"t":"(102)","x":43.66,"y":309},{"t":"(110)","x":52.2,"y":286},{"t":"(103)","x":57.72,"y":305}],
"pk2":[{"t":"(112)","x":61.85,"y":296},{"t":"(201)","x":63.64,"y":285}],
"cl":[{"t":"N₂/Ar; with Ar annealing","s":"A","x":70.2,"y":233},{"t":"N₂; no annealing","s":"B","x":70.2,"y":176},{"t":"N₂/Ar; no annealing","s":"C","x":70.1,"y":142},{"t":"N₂/Ar; with Ar annealing","s":"D","x":70.2,"y":84},{"t":"N₂; no annealing","s":"E","x":69.9,"y":36}],
"gt":[{"t":"GIXRD","x":21.19,"y":380}],
"sub":[{"t":"Si","x":75.77,"y":188},{"t":"Sapphire","x":73.28,"y":50}],
"br":[
{"b":"si1","o":0,"x":71.19,"y":251},{"b":"si1","o":1,"x":73.28,"y":249},{"b":"si1","o":2,"x":73.38,"y":235},{"b":"si1","o":3,"x":73.38,"y":201},{"b":"si1","o":4,"x":73.68,"y":189},{"b":"si1","o":5,"x":75.27,"y":188},
{"b":"si2","o":0,"x":75.27,"y":188},{"b":"si2","o":1,"x":73.68,"y":187},{"b":"si2","o":2,"x":73.38,"y":175},{"b":"si2","o":3,"x":73.38,"y":141},{"b":"si2","o":4,"x":73.28,"y":129},{"b":"si2","o":5,"x":71.19,"y":127},
{"b":"sa1","o":0,"x":71.29,"y":104},{"b":"sa1","o":1,"x":71.89,"y":102},{"b":"sa1","o":2,"x":71.89,"y":91},{"b":"sa1","o":3,"x":71.89,"y":61},{"b":"sa1","o":4,"x":72.09,"y":51},{"b":"sa1","o":5,"x":72.88,"y":50},
{"b":"sa2","o":0,"x":72.88,"y":50},{"b":"sa2","o":1,"x":72.09,"y":49},{"b":"sa2","o":2,"x":71.89,"y":39},{"b":"sa2","o":3,"x":71.89,"y":10},{"b":"sa2","o":4,"x":71.89,"y":3},{"b":"sa2","o":5,"x":71.29,"y":1}
],
"tt":[
{"s":"R1","x":24.95,"y":147.5},{"s":"R1","x":25.5,"y":148},{"s":"R1","x":26,"y":147.5},{"s":"R1","x":26.5,"y":148},{"s":"R1","x":27,"y":148},{"s":"R1","x":27.5,"y":148},{"s":"R1","x":28,"y":148.5},{"s":"R1","x":28.5,"y":149},{"s":"R1","x":28.8,"y":149.5},{"s":"R1","x":29.1,"y":150.5},{"s":"R1","x":29.4,"y":149.5},{"s":"R1","x":29.7,"y":149.5},{"s":"R1","x":30,"y":151.5},{"s":"R1","x":30.27,"y":154},{"s":"R1","x":30.45,"y":156},{"s":"R1","x":30.57,"y":158.5},{"s":"R1","x":30.67,"y":161},{"s":"R1","x":30.77,"y":165},{"s":"R1","x":30.87,"y":171},{"s":"R1","x":30.97,"y":181},{"s":"R1","x":31.02,"y":192},{"s":"R1","x":31.07,"y":210},{"s":"R1","x":31.12,"y":237},{"s":"R1","x":31.15,"y":260},{"s":"R1","x":31.18,"y":288.5},{"s":"R1","x":31.21,"y":319.5},{"s":"R1","x":31.24,"y":345.5},{"s":"R1","x":31.27,"y":356},{"s":"R1","x":31.3,"y":345.5},{"s":"R1","x":31.33,"y":319.5},{"s":"R1","x":31.36,"y":288.5},{"s":"R1","x":31.39,"y":260},{"s":"R1","x":31.42,"y":237},{"s":"R1","x":31.47,"y":210},{"s":"R1","x":31.52,"y":192},{"s":"R1","x":31.57,"y":181},{"s":"R1","x":31.67,"y":171},{"s":"R1","x":31.77,"y":165},{"s":"R1","x":31.87,"y":161},{"s":"R1","x":31.97,"y":158.5},{"s":"R1","x":32.1,"y":156.5},{"s":"R1","x":32.27,"y":155},{"s":"R1","x":32.6,"y":154},{"s":"R1","x":33,"y":153.5},{"s":"R1","x":33.2,"y":154},{"s":"R1","x":33.5,"y":152.5},{"s":"R1","x":34,"y":151.5},{"s":"R1","x":34.4,"y":151.5},{"s":"R1","x":34.5,"y":150.5},{"s":"R1","x":35,"y":150},{"s":"R1","x":35.5,"y":150},{"s":"R1","x":36,"y":149.5},{"s":"R1","x":36.5,"y":149},{"s":"R1","x":36.9,"y":149},{"s":"R1","x":37.1,"y":151},{"s":"R1","x":37.235,"y":150},
{"s":"R2","x":24.95,"y":107},{"s":"R2","x":26,"y":107.5},{"s":"R2","x":27,"y":107},{"s":"R2","x":28,"y":107.5},{"s":"R2","x":29,"y":107.5},{"s":"R2","x":30,"y":107.5},{"s":"R2","x":31,"y":107.5},{"s":"R2","x":32,"y":107.5},{"s":"R2","x":32.6,"y":108},{"s":"R2","x":32.87,"y":108},{"s":"R2","x":32.94,"y":110},{"s":"R2","x":32.99,"y":120},{"s":"R2","x":33.03,"y":129},{"s":"R2","x":33.07,"y":120},{"s":"R2","x":33.12,"y":110},{"s":"R2","x":33.2,"y":108},{"s":"R2","x":33.5,"y":107.5},{"s":"R2","x":34,"y":108.5},{"s":"R2","x":34.3,"y":107.5},{"s":"R2","x":35,"y":108},{"s":"R2","x":35.4,"y":108.5},{"s":"R2","x":36,"y":107.5},{"s":"R2","x":37,"y":107.5},{"s":"R2","x":37.235,"y":107.5},
{"s":"R3","x":24.95,"y":68},{"s":"R3","x":26,"y":68},{"s":"R3","x":27,"y":68},{"s":"R3","x":28,"y":68.5},{"s":"R3","x":29,"y":68.5},{"s":"R3","x":29.5,"y":69},{"s":"R3","x":30,"y":69.5},{"s":"R3","x":30.4,"y":70.5},{"s":"R3","x":30.6,"y":72},{"s":"R3","x":30.8,"y":74.5},{"s":"R3","x":31,"y":79},{"s":"R3","x":31.15,"y":83},{"s":"R3","x":31.3,"y":85.5},{"s":"R3","x":31.4,"y":85.5},{"s":"R3","x":31.55,"y":83},{"s":"R3","x":31.7,"y":79},{"s":"R3","x":31.85,"y":75},{"s":"R3","x":32,"y":72.5},{"s":"R3","x":32.2,"y":71},{"s":"R3","x":32.5,"y":70.5},{"s":"R3","x":33,"y":70},{"s":"R3","x":34,"y":69.5},{"s":"R3","x":34.6,"y":70},{"s":"R3","x":35,"y":69.5},{"s":"R3","x":36,"y":69},{"s":"R3","x":36.8,"y":69},{"s":"R3","x":37,"y":70.5},{"s":"R3","x":37.235,"y":70}
],
"tp":[{"t":"(002)","x":31.31,"y":381},{"t":"(101)","x":33.22,"y":200}],
"tc":[{"t":"N₂/Ar; no annealing","s":"R1","x":25.08,"y":165},{"t":"N₂/Ar; with Ar annealing","s":"R2","x":25.01,"y":122},{"t":"N₂; no annealing","s":"R3","x":25.11,"y":83}],
"tx1":[{"t":"θ-2θ","x":25.13,"y":381}],
"tx2":[{"t":"on Sapphire","x":37.11,"y":384}]
},
"hconcat":[
{
"width":515,"height":402,
"view":{"stroke":"#222","strokeWidth":1.5},
"layer":[
{"data":{"name":"gi"},"mark":{"type":"line","strokeWidth":3.2,"strokeJoin":"round"},
"encoding":{
"x":{"field":"x","type":"quantitative","scale":{"domain":[19.4,70.6],"nice":false,"zero":false},
"axis":{"title":"2θ (°)","values":[20,25,30,35,40,45,50,55,60,65,70],"labelExpr":"datum.value % 10 === 0 ? datum.label : ''","tickSize":{"condition":{"test":"datum.value % 10 === 0","value":8},"value":4},"tickColor":"#222","tickWidth":1.5,"domain":false,"labelFontSize":16,"labelFontWeight":"bold","labelColor":"#111","labelPadding":5,"labelFlush":false,"labelOverlap":false,"titleFontSize":20,"titleFontWeight":"bold","titleColor":"#111","titlePadding":12,"grid":false}},
"y":{"field":"y","type":"quantitative","scale":{"domain":[0,402],"nice":false,"zero":false},
"axis":{"title":"Intensity (a.u.)","ticks":false,"labels":false,"domain":false,"grid":false,"titleFontSize":19,"titleFontWeight":"bold","titleColor":"#111","titlePadding":19}},
"color":{"field":"s","type":"nominal","scale":{"domain":["A","B","C","D","E","R1","R2","R3"],"range":["#f03c46","#474747","#1f65dc","#f03c46","#474747","#1f65dc","#f03c46","#474747"]},"legend":null}
}},
{"data":{"name":"pk1"},"mark":{"type":"text","angle":270,"fontSize":17,"fontWeight":"bold","color":"#111","align":"center","baseline":"middle"},
"encoding":{"x":{"field":"x","type":"quantitative"},"y":{"field":"y","type":"quantitative"},"text":{"field":"t"}}},
{"data":{"name":"pk2"},"mark":{"type":"text","angle":270,"fontSize":13,"fontWeight":"bold","color":"#111","align":"center","baseline":"middle"},
"encoding":{"x":{"field":"x","type":"quantitative"},"y":{"field":"y","type":"quantitative"},"text":{"field":"t"}}},
{"data":{"name":"cl"},"mark":{"type":"text","fontSize":13,"fontWeight":"bold","align":"right","baseline":"middle"},
"encoding":{"x":{"field":"x","type":"quantitative"},"y":{"field":"y","type":"quantitative"},"text":{"field":"t"},
"color":{"field":"s","type":"nominal","scale":{"domain":["A","B","C","D","E","R1","R2","R3"],"range":["#f03c46","#474747","#1f65dc","#f03c46","#474747","#1f65dc","#f03c46","#474747"]},"legend":null}}},
{"data":{"name":"gt"},"mark":{"type":"text","fontSize":17,"fontWeight":"bold","color":"#444","align":"left","baseline":"middle"},
"encoding":{"x":{"field":"x","type":"quantitative"},"y":{"field":"y","type":"quantitative"},"text":{"field":"t"}}},
{"data":{"name":"sub"},"mark":{"type":"text","fontSize":15,"fontWeight":"bold","color":"#111","align":"left","baseline":"middle"},
"encoding":{"x":{"field":"x","type":"quantitative"},"y":{"field":"y","type":"quantitative"},"text":{"field":"t"}}},
{"data":{"name":"br"},"mark":{"type":"line","interpolate":"basis","stroke":"#8c8c8c","strokeWidth":2.5},
"encoding":{"x":{"field":"x","type":"quantitative"},"y":{"field":"y","type":"quantitative"},"detail":{"field":"b"},"order":{"field":"o","type":"quantitative"}}}
]
},
{
"width":514,"height":407,
"resolve":{"axis":{"x":"independent"}},
"layer":[
{"data":{"name":"tt"},"mark":{"type":"line","interpolate":"monotone","strokeWidth":3},
"encoding":{
"x":{"field":"x","type":"quantitative","scale":{"domain":[24.82,37.235],"nice":false,"zero":false},
"axis":{"title":"2θ (°)","values":[25,26,27,28,29,30,31,32,33,34,35,36,37],"labelExpr":"datum.value % 2 === 0 ? datum.label : ''","tickSize":{"condition":{"test":"datum.value % 2 === 0","value":8},"value":4},"tickColor":"#222","tickWidth":1.5,"domain":true,"domainColor":"#222","domainWidth":1.5,"labelFontSize":16,"labelFontWeight":"bold","labelColor":"#111","labelPadding":5,"labelFlush":false,"labelOverlap":false,"titleFontSize":20,"titleFontWeight":"bold","titleColor":"#111","titlePadding":12,"grid":false}},
"y":{"field":"y","type":"quantitative","scale":{"domain":[0,407],"nice":false,"zero":false},
"axis":{"title":"Intensity (a.u.)","ticks":false,"labels":false,"domain":true,"domainColor":"#222","domainWidth":1.5,"grid":false,"titleFontSize":19,"titleFontWeight":"bold","titleColor":"#111","titlePadding":20}},
"color":{"field":"s","type":"nominal","scale":{"domain":["A","B","C","D","E","R1","R2","R3"],"range":["#f03c46","#474747","#1f65dc","#f03c46","#474747","#1f65dc","#f03c46","#474747"]},"legend":null}
}},
{"data":{"name":"tp"},"mark":{"type":"text","angle":270,"fontSize":13,"fontWeight":"bold","color":"#111","align":"center","baseline":"middle"},
"encoding":{"x":{"field":"x","type":"quantitative","axis":{"orient":"top","domain":true,"domainColor":"#222","domainWidth":1.5,"ticks":false,"labels":false,"title":null,"grid":false}},"y":{"field":"y","type":"quantitative"},"text":{"field":"t"}}},
{"data":{"name":"tc"},"mark":{"type":"text","fontSize":13,"fontWeight":"bold","align":"left","baseline":"middle"},
"encoding":{"x":{"field":"x","type":"quantitative","axis":null},"y":{"field":"y","type":"quantitative"},"text":{"field":"t"},
"color":{"field":"s","type":"nominal","scale":{"domain":["A","B","C","D","E","R1","R2","R3"],"range":["#f03c46","#474747","#1f65dc","#f03c46","#474747","#1f65dc","#f03c46","#474747"]},"legend":null}}},
{"data":{"name":"tx1"},"mark":{"type":"text","font":"Liberation Serif","fontSize":18,"fontWeight":"bold","color":"#444","align":"left","baseline":"middle"},
"encoding":{"x":{"field":"x","type":"quantitative","axis":null},"y":{"field":"y","type":"quantitative"},"text":{"field":"t"}}},
{"data":{"name":"tx2"},"mark":{"type":"text","fontSize":15,"fontWeight":"bold","color":"#111","align":"right","baseline":"middle"},
"encoding":{"x":{"field":"x","type":"quantitative","axis":null},"y":{"field":"y","type":"quantitative"},"text":{"field":"t"}}}
]
}
]
}
